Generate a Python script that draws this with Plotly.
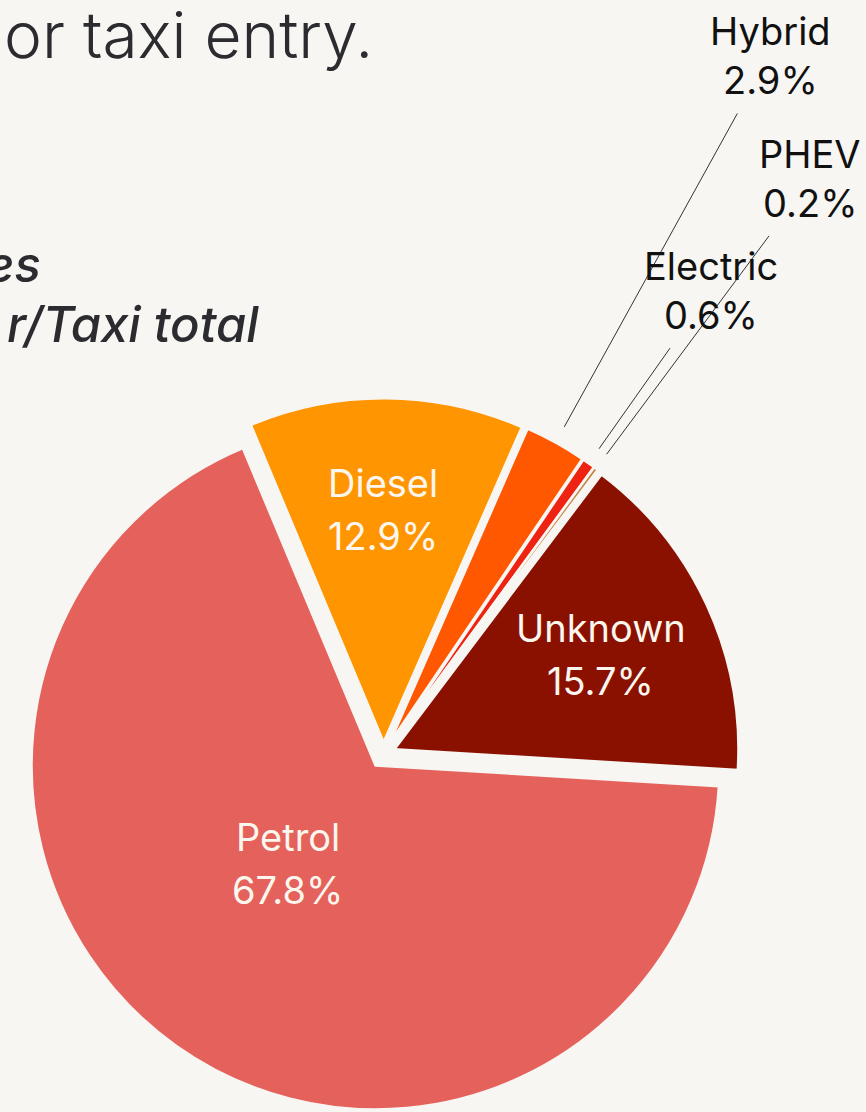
import math
import plotly.graph_objects as go

# ---- data ----
labels = ["Diesel", "Hybrid", "Electric", "PHEV", "Unknown", "Petrol"]
shares = [12.9, 2.9, 0.6, 0.2, 15.7, 67.8]
colors = ["#FF9500", "#FF5800", "#EE2312", "#C38340", "#8A1000", "#E4625B"]
pulls = [0.035, 0.035, 0.035, 0.035, 0.035, 0.04]
title_text = "or taxi entry."
subtitle_lines = ["es", "r/Taxi total"]

# labels drawn inside the slices: radius (px from pie centre) and angle nudge
inside_labels = ["Diesel", "Unknown", "Petrol"]
inside_r = {"Diesel": 245, "Unknown": 239, "Petrol": 145}
inside_nudge = {"Diesel": -0.6, "Unknown": 0.0, "Petrol": 6.0}
# labels drawn outside with leader lines: end radius of leader (px) and label offset
outside_labels = ["Hybrid", "Electric", "PHEV"]
leader_end = {"Hybrid": 732, "Electric": 497, "PHEV": 646}
label_dx = {"Hybrid": 33, "Electric": 41, "PHEV": 41}

# ---- layout geometry ----
W, H = 866, 1112
BG = "#F8F6F2"
CX, CY, R = 383.5, 754.5, 344.0
ROT = -22.7
FONT = "Inter, 'Noto Sans', sans-serif"
LABEL_SIZE = 38

maxpull = max(pulls)
half = R * (1 + maxpull)
dom_x = [(CX - half) / W, (CX + half) / W]
dom_y = [0.0, 2 * half / H]   # pie centre sits at H - half from the top

fig = go.Figure()

fig.add_trace(go.Pie(
    labels=labels, values=shares, sort=False, direction="clockwise",
    rotation=ROT, pull=pulls,
    marker=dict(colors=colors, line=dict(color=BG, width=2.5)),
    textinfo="none", hoverinfo="label+value",
    domain=dict(x=dom_x, y=dom_y), showlegend=False,
))

CY = H - half  # actual pie centre from the domain

# angles from data
total = sum(shares)
mid = {}
start = ROT
for lab, v in zip(labels, shares):
    span = v / total * 360
    mid[lab] = start + span / 2
    start += span

def polar(angle_deg, r):
    a = math.radians(angle_deg)
    return CX + r * math.sin(a), CY - r * math.cos(a)

annotations = []
inside_font = dict(family=FONT, size=LABEL_SIZE, color="#FBF6EE")
for lab in inside_labels:
    i = labels.index(lab)
    x, y = polar(mid[lab] + inside_nudge[lab], inside_r[lab])
    annotations.append(dict(x=x, y=y - 26, xref="x", yref="y", text=lab, showarrow=False,
                            font=inside_font, xanchor="center", yanchor="middle"))
    annotations.append(dict(x=x, y=y + 27, xref="x", yref="y", text=f"{shares[i]:.1f}%", showarrow=False,
                            font=inside_font, xanchor="center", yanchor="middle"))

outside_font = dict(family=FONT, size=LABEL_SIZE, color="#111111")
for lab in outside_labels:
    i = labels.index(lab)
    x0, y0 = polar(mid[lab], R * 1.087)
    x1, y1 = polar(mid[lab], leader_end[lab])
    fig.add_trace(go.Scatter(x=[x0, x1], y=[y0, y1], mode="lines",
                             line=dict(color="#333333", width=1), hoverinfo="skip", showlegend=False))
    lx = x1 + label_dx[lab]
    annotations.append(dict(x=lx, y=y1 - 82, xref="x", yref="y", text=lab, showarrow=False,
                            font=outside_font, xanchor="center", yanchor="middle"))
    annotations.append(dict(x=lx, y=y1 - 33, xref="x", yref="y", text=f"{shares[i]:.1f}%", showarrow=False,
                            font=outside_font, xanchor="center", yanchor="middle"))

# title fragments
annotations.append(dict(x=375, y=34, xref="x", yref="y", text=title_text, showarrow=False,
                        font=dict(family=FONT, size=64, color="#2B2B30", weight=300),
                        xanchor="right", yanchor="middle"))
annotations.append(dict(x=43, y=264, xref="x", yref="y", text=f"<i>{subtitle_lines[0]}</i>", showarrow=False,
                        font=dict(family=FONT, size=49, color="#2B2B30", weight=500),
                        xanchor="right", yanchor="middle"))
annotations.append(dict(x=261, y=324, xref="x", yref="y", text=f"<i>{subtitle_lines[1]}</i>", showarrow=False,
                        font=dict(family=FONT, size=49, color="#2B2B30", weight=500),
                        xanchor="right", yanchor="middle"))

fig.update_layout(
    width=W, height=H, paper_bgcolor=BG, plot_bgcolor="rgba(0,0,0,0)",
    margin=dict(l=0, r=0, t=0, b=0),
    xaxis=dict(range=[0, W], visible=False, domain=[0, 1], fixedrange=True),
    yaxis=dict(range=[H, 0], visible=False, domain=[0, 1], fixedrange=True),
    annotations=annotations, showlegend=False,
)

fig.write_html("out.html", config={"displayModeBar": False})

# remove the default page margin so the figure sits flush with the window
with open("out.html", encoding="utf-8") as f:
    html = f.read()
html = html.replace("<head>", "<head><style>html,body{margin:0;padding:0;background:%s;overflow:hidden}</style>" % BG, 1)
with open("out.html", "w", encoding="utf-8") as f:
    f.write(html)
